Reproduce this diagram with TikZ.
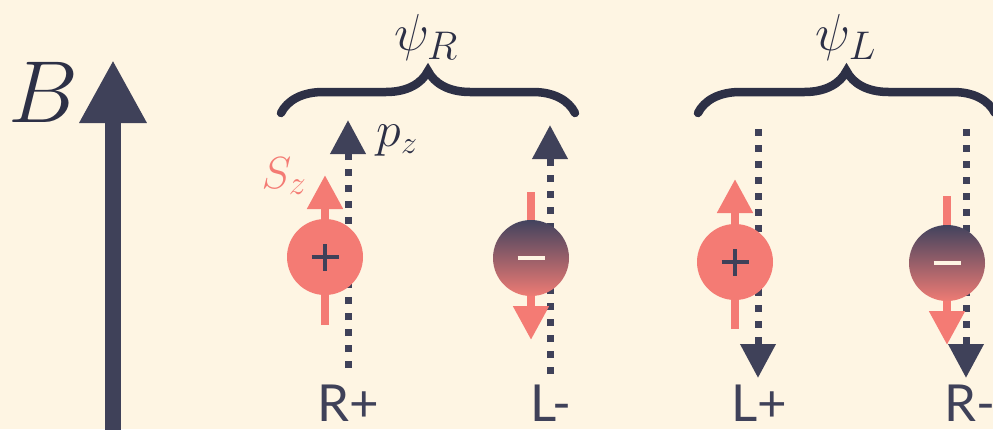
\RequirePackage{fix-cm}
\documentclass[tikz,border=0pt]{standalone}
\usepackage{fontspec}
\newfontfamily\labelfont{Lato}
\usetikzlibrary{arrows.meta,decorations.pathreplacing}
\definecolor{bg}{HTML}{FEF5E3}
\definecolor{dark}{HTML}{3F4159}
\definecolor{darkT}{HTML}{2D3046}
\definecolor{pinkc}{HTML}{F47B74}
\definecolor{negtop}{HTML}{42435E}
\definecolor{negbot}{HTML}{EE7B74}
\newcommand{\subsz}[2]{\hbox{\fontsize{#1}{#1}\selectfont$#2$}}
\begin{document}
\begin{tikzpicture}[x=1pt,y=-1pt,
  field/.style={line width=16pt, draw=dark, -{Triangle[width=63pt,length=63pt]}},
  mom/.style={line width=7pt, draw=dark, dash pattern=on 7pt off 9pt},
  momhead/.style={line width=7pt, draw=dark, -{Triangle[width=34pt,length=34pt]}},
  spin/.style={line width=8pt, draw=pinkc, -{Triangle[width=34pt,length=34pt]}},
  poscirc/.style={circle, fill=pinkc, minimum size=76pt, inner sep=0pt},
  negcirc/.style={circle, top color=negtop, bottom color=negbot, minimum size=76pt, inner sep=0pt},
  signline/.style={line width=3.6pt, draw=dark},
  msignline/.style={line width=3.6pt, draw=bg},
  br/.style={decorate, decoration={brace, amplitude=42pt}, line width=8.5pt, draw=darkT, line cap=round},
  lab/.style={font=\labelfont\fontsize{51}{60}\selectfont, text=dark, anchor=base, inner sep=0pt},
  mathlab/.style={anchor=base, text=darkT, inner sep=0pt},
]
\useasboundingbox (0,0) rectangle (993,429);
\fill[bg] (0,0) rectangle (993,429);

% magnetic field
\coordinate (Bbot) at (113,440);
\coordinate (Btip) at (113,60);
\draw[field] (Bbot) -- (Btip);
\node[mathlab, font=\fontsize{88}{90}\selectfont] (Blab) at (43,122) {$B$};

% braces
\coordinate (bR1) at (281,113); \coordinate (bR2) at (575,113);
\coordinate (bL1) at (698,113); \coordinate (bL2) at (995,113);
\draw[br] (bR1) -- (bR2);
\draw[br] (bL1) -- (bL2);
\node[mathlab, font=\fontsize{52}{60}\selectfont] (psiR) at (426,50) {$\psi_{\subsz{40}{R}}$};
\node[mathlab, font=\fontsize{52}{60}\selectfont] (psiL) at (846,50) {$\psi_{\subsz{40}{L}}$};

% momentum arrows
\coordinate (m1b) at (348,368); \coordinate (m1s) at (348,160); \coordinate (m1t) at (348,120);
\coordinate (m2b) at (550,374); \coordinate (m2s) at (550,166); \coordinate (m2t) at (550,125);
\coordinate (m3b) at (758,129); \coordinate (m3s) at (758,339); \coordinate (m3t) at (758,378);
\coordinate (m4b) at (966,129); \coordinate (m4s) at (966,339); \coordinate (m4t) at (966,378);
\foreach \i in {1,2,3,4}{
  \draw[mom] (m\i b) -- (m\i s);
  \draw[momhead] (m\i s) -- (m\i t);
}

% spin arrows
\coordinate (s1a) at (325,325); \coordinate (s1b) at (325,175);
\coordinate (s2a) at (531,192); \coordinate (s2b) at (531,340);
\coordinate (s3a) at (735,329); \coordinate (s3b) at (735,179);
\coordinate (s4a) at (947,196); \coordinate (s4b) at (947,345);
\foreach \i in {1,2,3,4}{
  \draw[spin] (s\i a) -- (s\i b);
}

% particles
\node[poscirc] (c1) at (325,257) {};
\node[negcirc] (c2) at (531,258) {};
\node[poscirc] (c3) at (735,262) {};
\node[negcirc] (c4) at (947,263) {};
\foreach \c in {c1,c3}{
  \draw[signline] ([xshift=-13.5pt]\c.center) -- ([xshift=13.5pt]\c.center);
  \draw[signline] ([yshift=-13.5pt]\c.center) -- ([yshift=13.5pt]\c.center);
}
\foreach \c in {c2,c4}{
  \draw[msignline] ([xshift=-13.5pt]\c.center) -- ([xshift=13.5pt]\c.center);
}

% labels
\node[anchor=base, inner sep=0pt, text=pinkc, font=\fontsize{45}{50}\selectfont] (sz) at (284,188) {$S_{\subsz{34}{z}}$};
\node[mathlab, font=\fontsize{50}{55}\selectfont] (pz) at (397,146) {$p_{\subsz{32}{z}}$};
\node[lab] (l1) at (348,421) {R+};
\node[lab] (l2) at (551,421) {L-};
\node[lab] (l3) at (759,421) {L+};
\node[lab] (l4) at (970,421) {R-};
\end{tikzpicture}
\end{document}
